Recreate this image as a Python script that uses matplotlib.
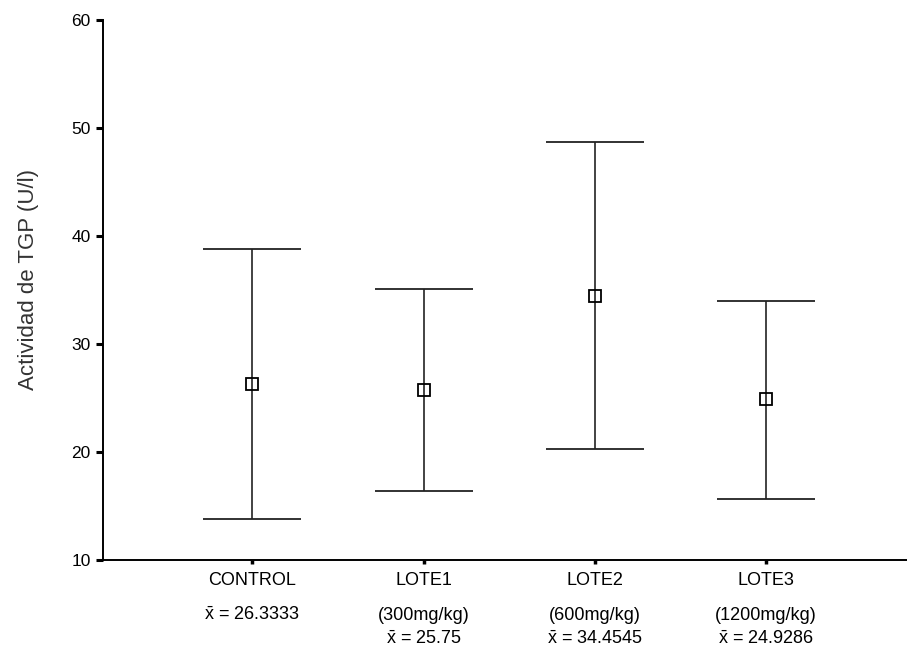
import numpy as np
import matplotlib
matplotlib.use('Agg')
import matplotlib.pyplot as plt
import matplotlib.transforms as mtransforms

plt.rcParams['font.family'] = ['Liberation Sans', 'DejaVu Sans']
plt.rcParams['mathtext.fontset'] = 'custom'
plt.rcParams['mathtext.rm'] = 'Liberation Sans'

# Grupos, dosis e intervalos de TGP (U/l)
grupos = ['CONTROL', 'LOTE1', 'LOTE2', 'LOTE3']
dosis = ['', '(300mg/kg)', '(600mg/kg)', '(1200mg/kg)']
medias = [26.3333, 25.75, 34.4545, 24.9286]
limite_inf = [13.8, 16.4, 20.3, 15.7]
limite_sup = [38.8, 35.1, 48.7, 34.0]

x = np.arange(len(grupos))
medias_arr = np.array(medias)
yerr = [medias_arr - np.array(limite_inf), np.array(limite_sup) - medias_arr]

fig = plt.figure(figsize=(9.07, 6.49), dpi=100)
ax = fig.add_axes([0.1136, 0.137, 0.886, 0.832])

ax.errorbar(x, medias_arr, yerr=yerr, fmt='s', color='black',
            ecolor='#222222', elinewidth=1.2, capsize=35, capthick=1.2,
            markersize=9, markerfacecolor='none', markeredgewidth=1.3)

ax.set_xlim(-0.871, 3.82)
ax.set_ylim(10, 60)
ax.set_yticks([10, 20, 30, 40, 50, 60])
ax.tick_params(axis='y', direction='out', length=5, width=2.2, labelsize=12.5, pad=4)
ax.tick_params(axis='x', direction='out', length=3, width=2.5, labelbottom=False)
ax.set_xticks(x)

for lado in ['top', 'right']:
    ax.spines[lado].set_visible(False)
for lado in ['left', 'bottom']:
    ax.spines[lado].set_linewidth(1.4)

ax.set_ylabel('Actividad de TGP (U/l)', fontsize=16, color='#333333')
ax.yaxis.set_label_coords(-0.08, 0.52)

# Etiquetas de grupo, dosis y media bajo cada categoría
trans = mtransforms.blended_transform_factory(ax.transData, ax.transAxes)
for i, (g, d, m) in enumerate(zip(grupos, dosis, medias)):
    ax.text(x[i], -0.037, g, transform=trans, ha='center', va='center', fontsize=13)
    etiqueta_media = r'$\bar{\mathrm{x}}$' + f' = {m:g}'
    if d:
        ax.text(x[i], -0.102, d, transform=trans, ha='center', va='center', fontsize=13)
        ax.text(x[i], -0.146, etiqueta_media, transform=trans, ha='center', va='center', fontsize=13)
    else:
        ax.text(x[i], -0.102, etiqueta_media, transform=trans, ha='center', va='center', fontsize=13)

fig.savefig('out.png', dpi=100, facecolor='white')
